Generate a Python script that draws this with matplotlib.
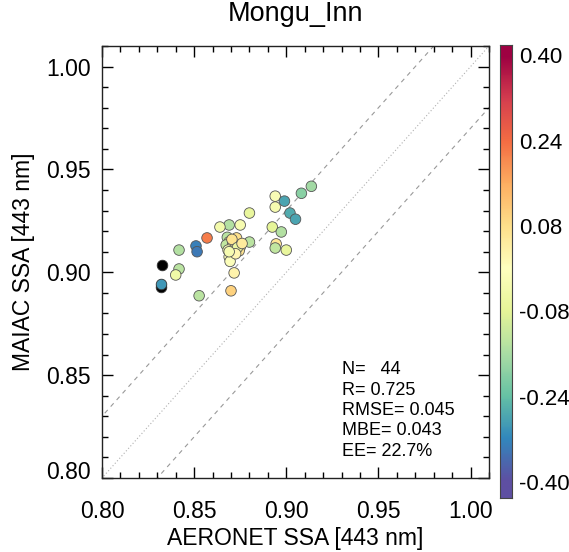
import numpy as np
import matplotlib
matplotlib.use("Agg")
import matplotlib.pyplot as plt
from matplotlib.transforms import ScaledTranslation
from matplotlib.ticker import MultipleLocator

plt.rcParams['font.family'] = ['Liberation Sans', 'DejaVu Sans']

# ---- data ----
aeronet = [0.9136, 0.9082, 0.894, 0.899, 0.894, 0.902, 0.905, 0.880, 0.869, 0.864,
           0.875, 0.8924, 0.8973, 0.857, 0.868, 0.873, 0.851, 0.8516, 0.8418, 0.869,
           0.8674, 0.871, 0.875, 0.880, 0.8945, 0.894, 0.900, 0.8684, 0.8744, 0.869,
           0.8418, 0.840, 0.8717, 0.8527, 0.870, 0.8705, 0.8735, 0.8695, 0.876, 0.8725,
           0.8690]
maiac = [0.9418, 0.9384, 0.937, 0.9346, 0.9317, 0.9288, 0.9258, 0.9288, 0.923, 0.922,
         0.923, 0.922, 0.9196, 0.9167, 0.917, 0.9167, 0.9128, 0.910, 0.9108, 0.9148,
         0.9133, 0.9138, 0.9123, 0.9147, 0.9138, 0.9118, 0.9108, 0.9108, 0.9104, 0.9075,
         0.9016, 0.8987, 0.8997, 0.8886, 0.891, 0.9160, 0.9120, 0.9053, 0.9140, 0.9090,
         0.9100]
diff_val = [-0.17, -0.20, -0.02, -0.28, -0.03, -0.27, -0.28, -0.07, -0.15, -0.04,
            -0.03, -0.08, -0.15, 0.22, -0.14, 0.08, -0.33, -0.34, -0.15, 0.05,
            -0.13, 0.02, 0.00, -0.14, 0.06, -0.13, -0.07, -0.02, 0.07, -0.02,
            -0.14, -0.05, 0.03, -0.14, 0.10, 0.07, -0.06, -0.01, 0.05, 0.02,
            -0.03]
# points outside colour range (drawn black) and the blue point on top of one
black_x = [0.8326, 0.832]
black_y = [0.9036, 0.8930]
blue_x = [0.832]
blue_y = [0.8945]
blue_c = [-0.30]

stats_text = ["N=   44", "R= 0.725", "RMSE= 0.045", "MBE= 0.043", "EE= 22.7%"]
cbar_ticks = [0.40, 0.24, 0.08, -0.08, -0.24, -0.40]
xy_ticks = [0.80, 0.85, 0.90, 0.95, 1.00]
ee = 0.03

W, H = 569, 552
fig = plt.figure(figsize=(W / 100, H / 100), dpi=100)
ax = fig.add_axes([102 / W, 1 - 478 / H, 387 / W, 432 / H])

lim = (0.80, 1.01)
ln = np.array([0.75, 1.05])
ax.plot(ln, ln, color='#b0b0b0', lw=0.8, ls=(0, (1, 2)), zorder=1)
ax.plot(ln, ln + ee, color='#999999', lw=0.8, ls=(0, (4, 4)), zorder=1)
ax.plot(ln, ln - ee, color='#999999', lw=0.8, ls=(0, (4, 4)), zorder=1)

cmap = plt.get_cmap('Spectral_r')
ax.scatter(black_x, black_y, c='black', s=58, edgecolors='#333333', linewidths=0.6, zorder=3)
ax.scatter(blue_x, blue_y, c=blue_c, cmap=cmap, vmin=-0.4, vmax=0.4, s=58,
           edgecolors='#333333', linewidths=0.6, zorder=4)
ax.scatter(aeronet, maiac, c=diff_val, cmap=cmap, vmin=-0.4, vmax=0.4, s=58,
           edgecolors='#555555', linewidths=0.6, zorder=3)

ax.set_xlim(*lim)
ax.set_ylim(*lim)
ax.set_xticks(xy_ticks)
ax.set_yticks(xy_ticks)
ax.set_xticklabels([f"{v:.2f}" for v in xy_ticks])
ax.set_yticklabels([f"{v:.2f}" for v in xy_ticks])
ax.xaxis.set_minor_locator(MultipleLocator(0.01))
ax.yaxis.set_minor_locator(MultipleLocator(0.01))
ax.tick_params(which='both', direction='in', top=True, right=True, labelsize=16.5)
ax.tick_params(which='major', length=8, width=1)
ax.tick_params(which='minor', length=4, width=1)
ax.tick_params(axis='x', pad=15.5)
ax.tick_params(axis='y', pad=8)
for s in ax.spines.values():
    s.set_linewidth(1.0)
    s.set_color('#222222')

# first y tick label lifted as in the reference
lab0 = ax.get_yticklabels()[0]
lab0.set_transform(lab0.get_transform() + ScaledTranslation(0, 8 / 100, fig.dpi_scale_trans))

fig.text(295 / W, 1 - 539 / H, "AERONET SSA [443 nm]", fontsize=16.5, ha='center', va='center')
ax.set_ylabel("MAIAC SSA [443 nm]", fontsize=16.5, labelpad=8)
fig.text(295 / W, 1 - 14 / H, "Mongu_Inn", fontsize=19.5, ha='center', va='center')

for i, t in enumerate(stats_text):
    fig.text(342 / W, 1 - (370 + i * 20.3) / H, t, fontsize=13, ha='left', va='center')

# colorbar
cax = fig.add_axes([500 / W, 1 - 498 / H, 12 / W, 453 / H])
lo, hi = -0.430, 0.419
grad = np.linspace(lo, hi, 256).reshape(-1, 1)
cax.imshow(grad, aspect='auto', cmap=cmap, vmin=-0.4, vmax=0.4, origin='lower',
           extent=[0, 1, lo, hi])
cax.set_xlim(0, 1)
cax.set_ylim(lo, hi)
cax.set_xticks([])
cax.yaxis.tick_right()
cax.set_yticks(cbar_ticks)
cax.set_yticklabels([f"{v:.2f}" for v in cbar_ticks])
cax.tick_params(axis='y', length=0, pad=5, labelsize=16)
for s in cax.spines.values():
    s.set_linewidth(0.8)
    s.set_color('#444444')

fig.savefig("out.png", dpi=100)
